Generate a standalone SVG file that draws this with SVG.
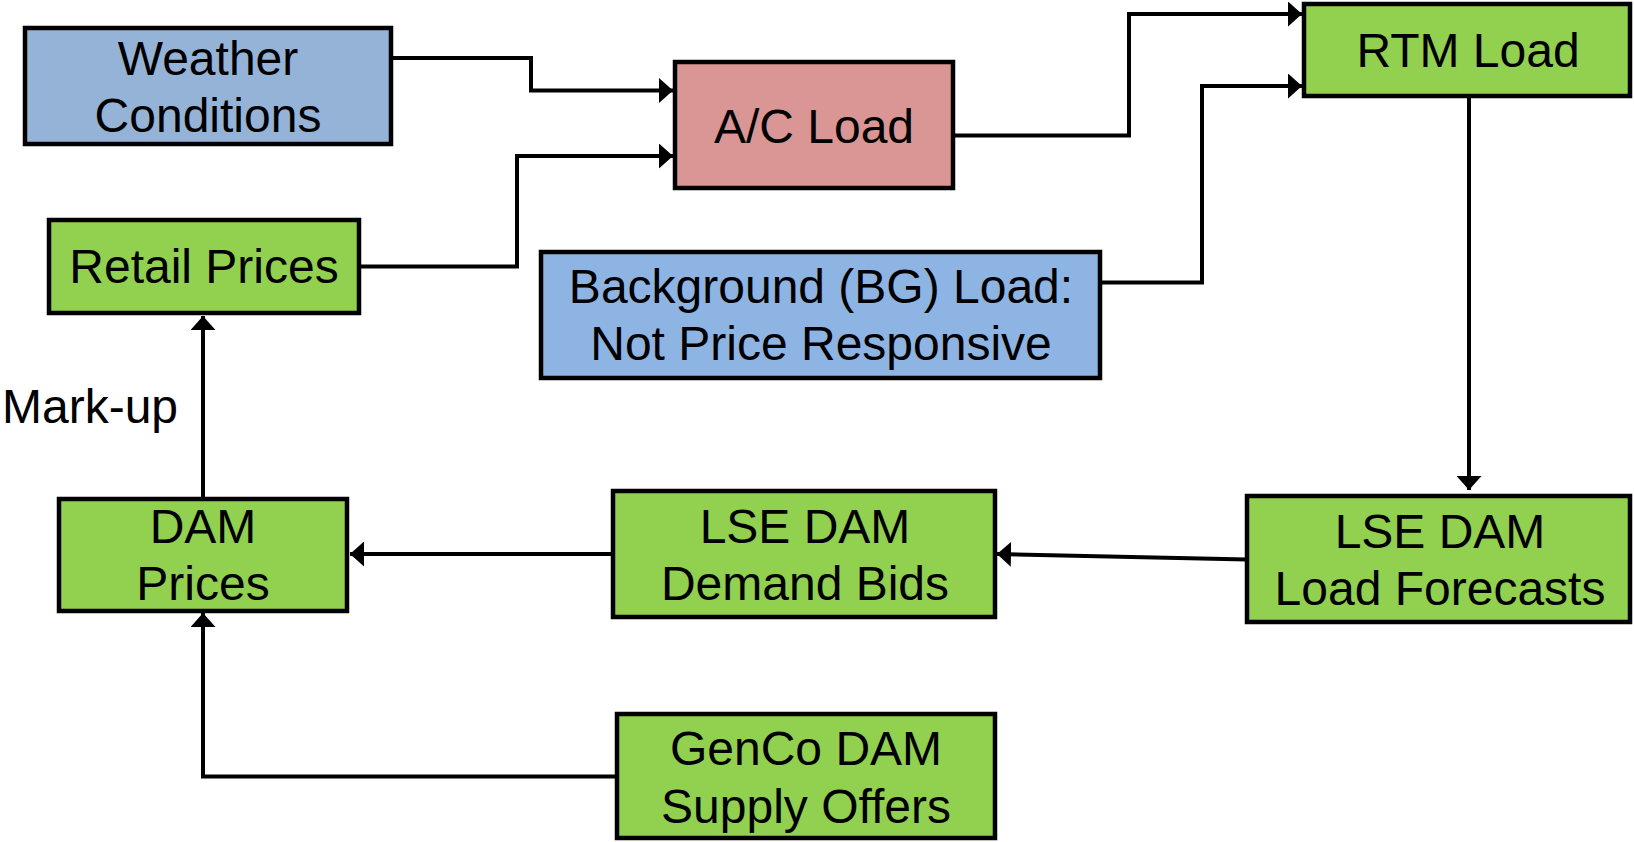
<svg xmlns="http://www.w3.org/2000/svg" width="1634" height="842" viewBox="0 0 1634 842">
<defs>
<style>
.box{stroke:#000;stroke-width:4.5}
.green{fill:#92D050}
.blue1{fill:#95B3D7}
.blue2{fill:#8EB4E3}
.pink{fill:#D99694}
text{font-family:"Liberation Sans",Arial,sans-serif;font-size:48px;fill:#000}
.c{text-anchor:middle}
.conn{fill:none;stroke:#000;stroke-width:4}
</style>
<marker id="arr" viewBox="0 0 14 25" refX="14" refY="12.5" markerWidth="14" markerHeight="25" markerUnits="userSpaceOnUse" orient="auto">
<path d="M0,0 L14,12.5 L0,25 z" fill="#000"/>
</marker>
</defs>
<rect width="1634" height="842" fill="#fff"/>
<g id="connectors">
<path class="conn" d="M389,58 H531 V90.5 H673" marker-end="url(#arr)"/>
<path class="conn" d="M359,266.5 H517 V156 H673" marker-end="url(#arr)"/>
<path class="conn" d="M953,135.5 H1129 V14 H1302" marker-end="url(#arr)"/>
<path class="conn" d="M1100,282.5 H1202 V86 H1302" marker-end="url(#arr)"/>
<path class="conn" d="M1469,96 V490" marker-end="url(#arr)"/>
<path class="conn" d="M1247,559.5 L997,554" marker-end="url(#arr)"/>
<path class="conn" d="M613,554 H350" marker-end="url(#arr)"/>
<path class="conn" d="M203,499 V316" marker-end="url(#arr)"/>
<path class="conn" d="M617,776.5 H203 V613" marker-end="url(#arr)"/>
</g>
<g id="weather">
<rect class="box blue1" x="25" y="28" width="366" height="116"/>
<text class="c" x="208" y="75">Weather</text>
<text class="c" x="208" y="131.5">Conditions</text>
</g>
<g id="retail">
<rect class="box green" x="49" y="220" width="310" height="93"/>
<text class="c" x="204" y="283">Retail Prices</text>
</g>
<g id="acload">
<rect class="box pink" x="675" y="62" width="278" height="126"/>
<text class="c" x="814" y="142.5">A/C Load</text>
</g>
<g id="rtm">
<rect class="box green" x="1304" y="4" width="326" height="92"/>
<text class="c" x="1468" y="66.5">RTM Load</text>
</g>
<g id="bgload">
<rect class="box blue2" x="541" y="252" width="559" height="126"/>
<text class="c" x="821" y="303">Background (BG) Load:</text>
<text class="c" x="821" y="360">Not Price Responsive</text>
</g>
<g id="damprices">
<rect class="box green" x="59" y="499" width="288" height="112"/>
<text class="c" x="203" y="543">DAM</text>
<text class="c" x="203" y="600">Prices</text>
</g>
<g id="demandbids">
<rect class="box green" x="613" y="491" width="382" height="126"/>
<text class="c" x="805" y="543">LSE DAM</text>
<text class="c" x="805" y="600">Demand Bids</text>
</g>
<g id="loadforecasts">
<rect class="box green" x="1247" y="496" width="383" height="126"/>
<text class="c" x="1440" y="547.5">LSE DAM</text>
<text class="c" x="1440" y="605">Load Forecasts</text>
</g>
<g id="genco">
<rect class="box green" x="617" y="714" width="378" height="124"/>
<text class="c" x="806" y="765">GenCo DAM</text>
<text class="c" x="806" y="822.5">Supply Offers</text>
</g>
<text id="markup" x="2" y="423">Mark-up</text>
</svg>
